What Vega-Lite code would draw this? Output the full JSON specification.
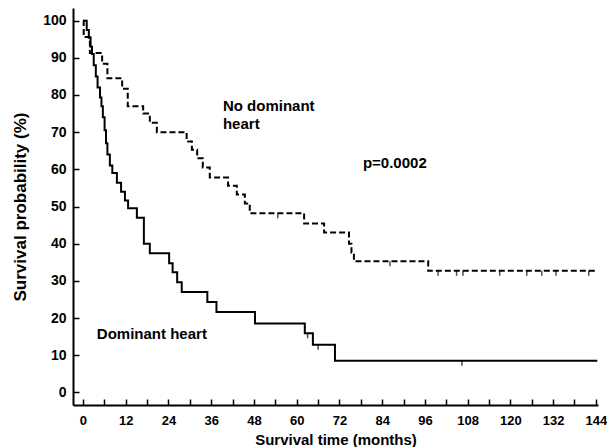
{
  "$schema": "https://vega.github.io/schema/vega-lite/v6.json",
  "width": 525,
  "height": 397,
  "autosize": "none",
  "padding": {"left": 73, "top": 8, "right": 9, "bottom": 42},
  "background": "white",
  "config": {
    "view": {"stroke": null},
    "font": "Liberation Sans",
    "axis": {
      "grid": false,
      "domainColor": "black",
      "domainWidth": 2,
      "tickColor": "black",
      "tickWidth": 1.5,
      "labelFont": "Liberation Sans",
      "labelFontWeight": "bold",
      "labelFontSize": 13,
      "labelColor": "black",
      "titleFont": "Liberation Sans",
      "titleFontWeight": "bold",
      "titleFontSize": 15,
      "titleColor": "black"
    }
  },
  "datasets": {
    "curves": [
      {"g": "Dominant heart", "m": 0, "s": 100},
      {"g": "Dominant heart", "m": 1.05, "s": 97.5},
      {"g": "Dominant heart", "m": 1.64, "s": 95.4},
      {"g": "Dominant heart", "m": 2.14, "s": 93},
      {"g": "Dominant heart", "m": 2.53, "s": 91},
      {"g": "Dominant heart", "m": 3.02, "s": 88},
      {"g": "Dominant heart", "m": 3.61, "s": 85},
      {"g": "Dominant heart", "m": 4.1, "s": 82},
      {"g": "Dominant heart", "m": 4.79, "s": 79.3},
      {"g": "Dominant heart", "m": 5.19, "s": 77},
      {"g": "Dominant heart", "m": 5.58, "s": 74},
      {"g": "Dominant heart", "m": 6.07, "s": 70.5},
      {"g": "Dominant heart", "m": 6.47, "s": 67},
      {"g": "Dominant heart", "m": 6.86, "s": 64},
      {"g": "Dominant heart", "m": 7.55, "s": 61},
      {"g": "Dominant heart", "m": 8.24, "s": 59},
      {"g": "Dominant heart", "m": 9.52, "s": 56.4},
      {"g": "Dominant heart", "m": 10.7, "s": 54},
      {"g": "Dominant heart", "m": 11.78, "s": 51.6},
      {"g": "Dominant heart", "m": 12.67, "s": 49.5},
      {"g": "Dominant heart", "m": 15.13, "s": 47},
      {"g": "Dominant heart", "m": 17.1, "s": 40},
      {"g": "Dominant heart", "m": 18.77, "s": 37.4},
      {"g": "Dominant heart", "m": 24.19, "s": 34.7},
      {"g": "Dominant heart", "m": 25.17, "s": 32.3},
      {"g": "Dominant heart", "m": 26.45, "s": 29.6},
      {"g": "Dominant heart", "m": 27.73, "s": 27},
      {"g": "Dominant heart", "m": 34.92, "s": 24.3},
      {"g": "Dominant heart", "m": 37.48, "s": 21.6},
      {"g": "Dominant heart", "m": 48.3, "s": 18.5},
      {"g": "Dominant heart", "m": 62.28, "s": 15.9},
      {"g": "Dominant heart", "m": 64.55, "s": 12.8},
      {"g": "Dominant heart", "m": 70.75, "s": 8.5},
      {"g": "Dominant heart", "m": 144.4, "s": 8.5},
      {"g": "No dominant heart", "m": 0, "s": 100},
      {"g": "No dominant heart", "m": 0.2, "s": 95.6},
      {"g": "No dominant heart", "m": 1.94, "s": 91.3},
      {"g": "No dominant heart", "m": 5.38, "s": 88.4},
      {"g": "No dominant heart", "m": 6.86, "s": 84.5},
      {"g": "No dominant heart", "m": 11, "s": 81.7},
      {"g": "No dominant heart", "m": 12.57, "s": 77},
      {"g": "No dominant heart", "m": 16.9, "s": 75},
      {"g": "No dominant heart", "m": 18.77, "s": 72.5},
      {"g": "No dominant heart", "m": 20.74, "s": 70},
      {"g": "No dominant heart", "m": 29.11, "s": 67.5},
      {"g": "No dominant heart", "m": 30.58, "s": 65.3},
      {"g": "No dominant heart", "m": 32.06, "s": 63},
      {"g": "No dominant heart", "m": 33.64, "s": 60.5},
      {"g": "No dominant heart", "m": 35.6, "s": 57.8},
      {"g": "No dominant heart", "m": 40.73, "s": 55.6},
      {"g": "No dominant heart", "m": 43.19, "s": 53.2},
      {"g": "No dominant heart", "m": 45.45, "s": 50.8},
      {"g": "No dominant heart", "m": 46.83, "s": 48.2},
      {"g": "No dominant heart", "m": 62.09, "s": 45.4},
      {"g": "No dominant heart", "m": 67.7, "s": 43},
      {"g": "No dominant heart", "m": 74.69, "s": 40},
      {"g": "No dominant heart", "m": 75.38, "s": 37.6},
      {"g": "No dominant heart", "m": 76.07, "s": 35.3},
      {"g": "No dominant heart", "m": 96.93, "s": 32.7},
      {"g": "No dominant heart", "m": 144.4, "s": 32.7}
    ],
    "censored": [
      {"g": "Dominant heart", "m": 63.07, "s": 15.9},
      {"g": "Dominant heart", "m": 66.02, "s": 12.8},
      {"g": "Dominant heart", "m": 106.4, "s": 8.5},
      {"g": "No dominant heart", "m": 54.7, "s": 48.2},
      {"g": "No dominant heart", "m": 86.2, "s": 35.3},
      {"g": "No dominant heart", "m": 99.7, "s": 32.7},
      {"g": "No dominant heart", "m": 104.9, "s": 32.7},
      {"g": "No dominant heart", "m": 106.7, "s": 32.7},
      {"g": "No dominant heart", "m": 117, "s": 32.7},
      {"g": "No dominant heart", "m": 124.6, "s": 32.7},
      {"g": "No dominant heart", "m": 128.8, "s": 32.7},
      {"g": "No dominant heart", "m": 132.8, "s": 32.7},
      {"g": "No dominant heart", "m": 142, "s": 32.7}
    ],
    "notes": [
      {"m": 39.3, "s": 77, "t": "No dominant"},
      {"m": 39.3, "s": 72.2, "t": "heart"},
      {"m": 78.6, "s": 61.6, "t": "p=0.0002"},
      {"m": 3.9, "s": 15.7, "t": "Dominant heart"}
    ]
  },
  "encoding": {
    "x": {
      "field": "m",
      "type": "quantitative",
      "scale": {"domain": [-2.8, 144.6], "nice": false, "zero": false},
      "axis": {
        "title": "Survival time (months)",
        "values": [0, 6, 12, 18, 24, 30, 36, 42, 48, 54, 60, 66, 72, 78, 84, 90, 96, 102, 108, 114, 120, 126, 132, 138, 144],
        "labelExpr": "datum.value % 12 == 0 ? datum.label : ''",
        "tickSize": -6,
        "labelPadding": 15,
        "titlePadding": 5,
        "labelFlush": false,
        "labelOverlap": false
      }
    },
    "y": {
      "field": "s",
      "type": "quantitative",
      "scale": {"domain": [-3.4, 103.4], "nice": false, "zero": false},
      "axis": {
        "title": "Survival probability (%)",
        "titleFontSize": 17,
        "labelFontSize": 14,
        "values": [0, 10, 20, 30, 40, 50, 60, 70, 80, 90, 100],
        "tickSize": -6,
        "labelPadding": 13,
        "titlePadding": 13,
        "labelFlush": false,
        "labelOverlap": false
      }
    }
  },
  "layer": [
    {
      "data": {"name": "curves"},
      "mark": {"type": "line", "interpolate": "step-after", "color": "black", "strokeWidth": 2},
      "encoding": {
        "detail": {"field": "g"},
        "strokeDash": {
          "field": "g",
          "type": "nominal",
          "scale": {"domain": ["Dominant heart", "No dominant heart"], "range": [[1, 0], [6, 3]]},
          "legend": null
        }
      }
    },
    {
      "data": {"name": "censored"},
      "mark": {"type": "tick", "orient": "vertical", "color": "black", "size": 5, "thickness": 1.5, "yOffset": 2.5}
    },
    {
      "data": {"name": "notes"},
      "mark": {"type": "text", "align": "left", "baseline": "middle", "font": "Liberation Sans", "fontWeight": "bold", "fontSize": 15, "color": "black"},
      "encoding": {"text": {"field": "t"}}
    }
  ]
}
